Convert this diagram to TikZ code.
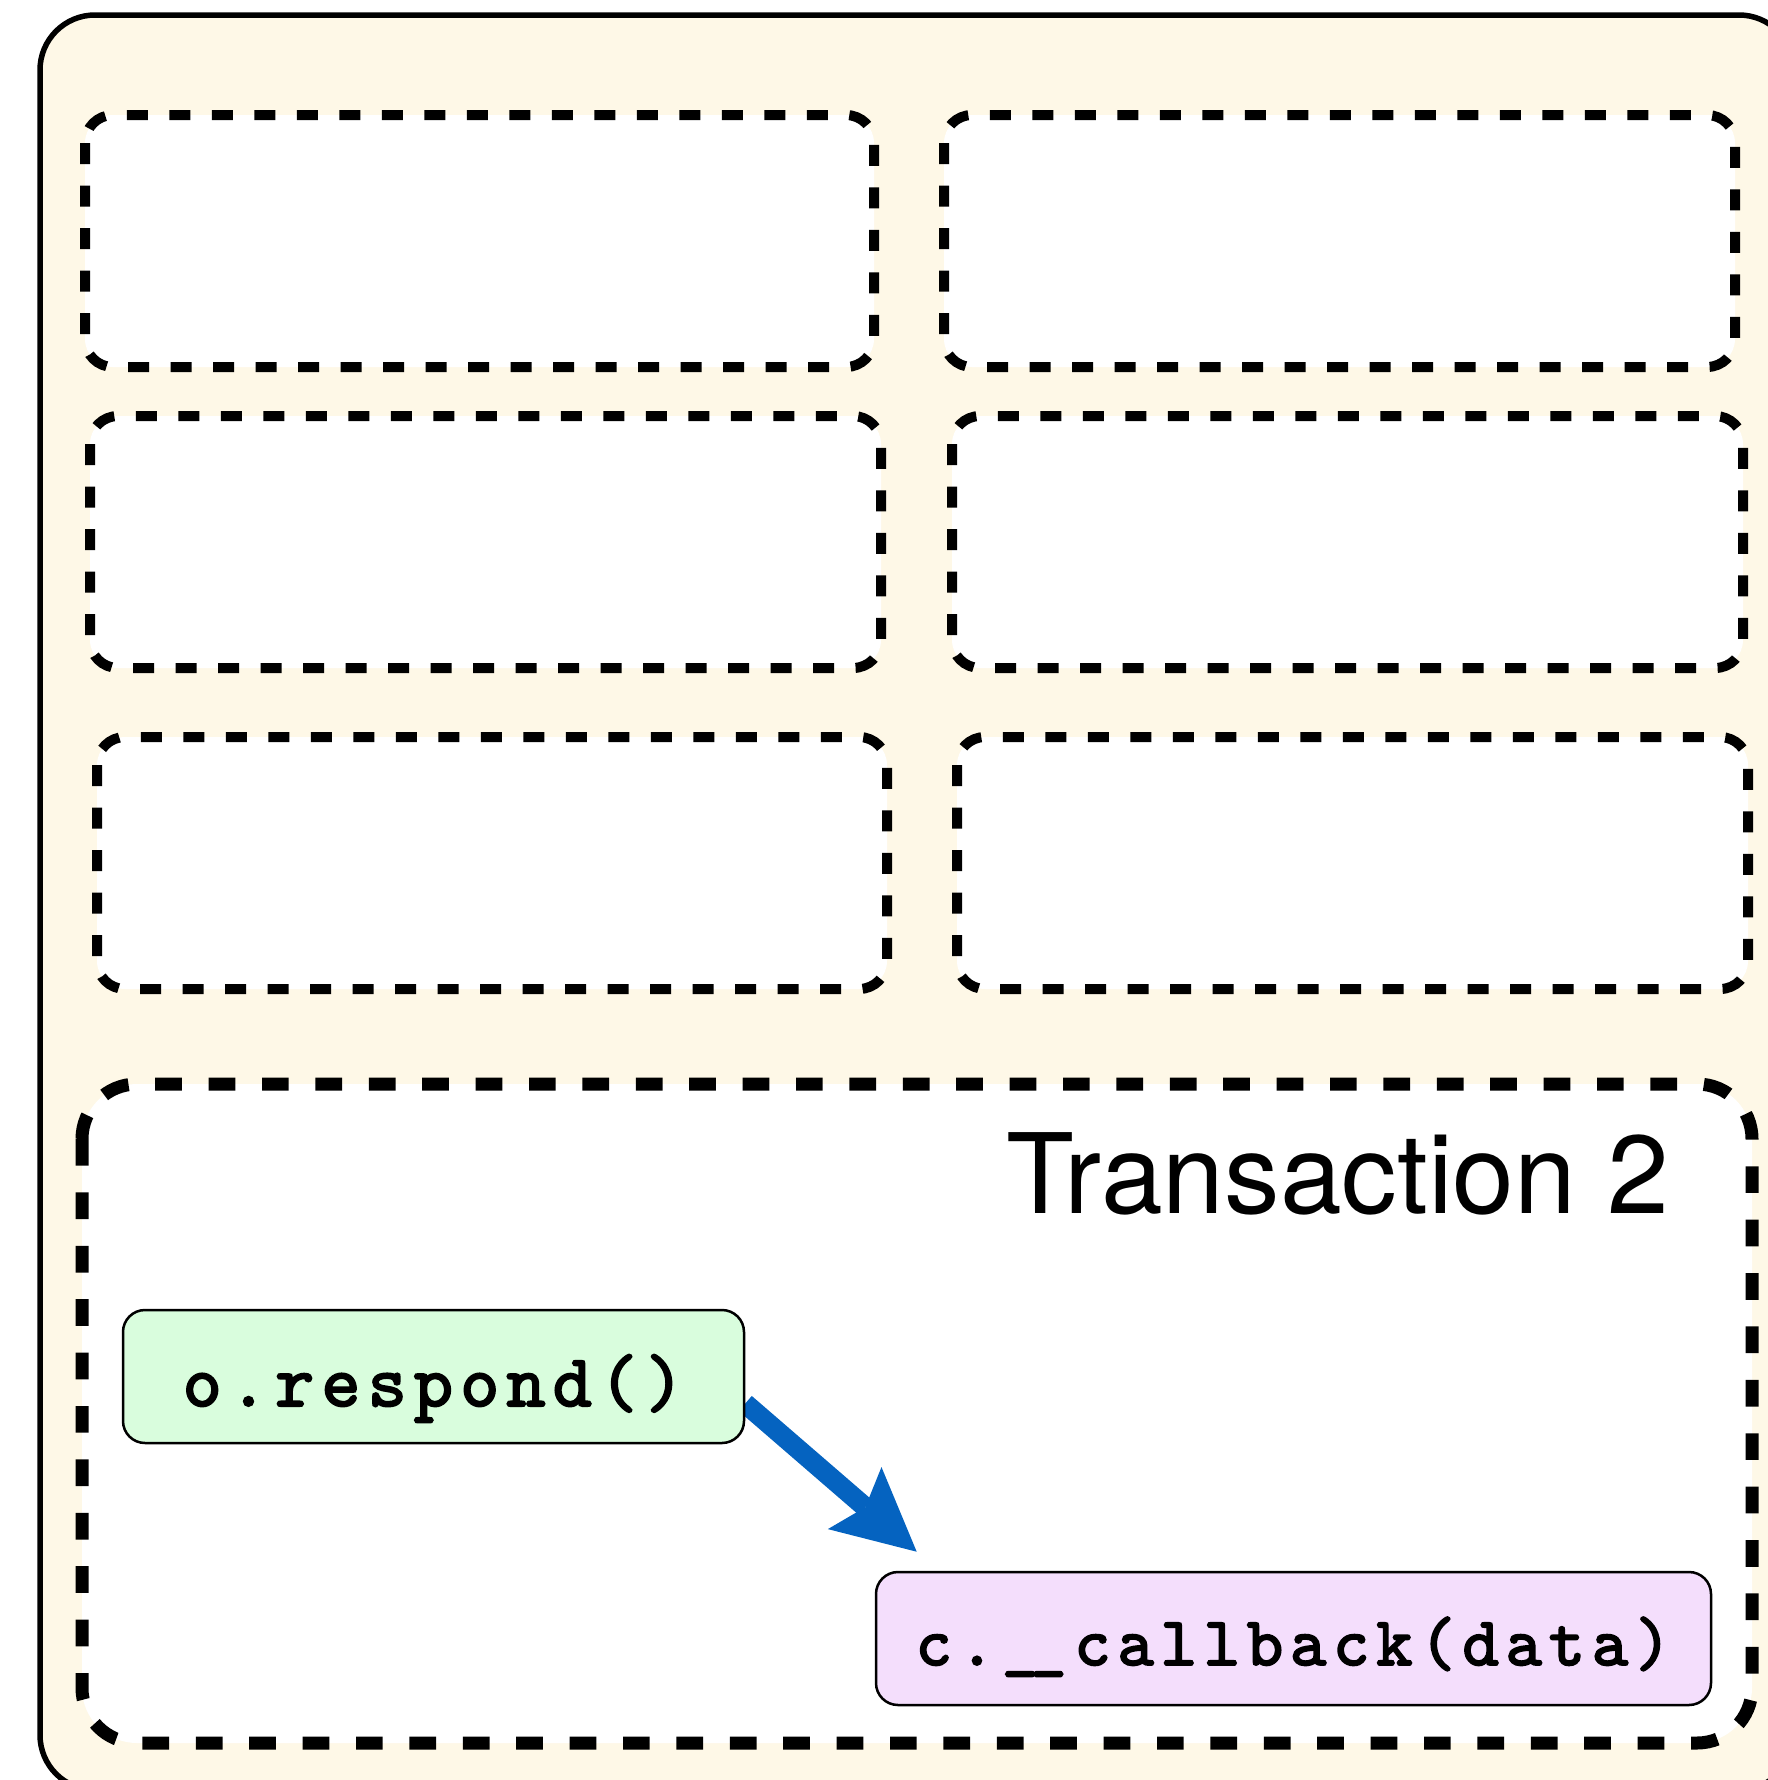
\documentclass[tikz,border=0pt]{standalone}
\usepackage{fontspec}
\setmainfont{TeX Gyre Heros}
\newfontfamily\codefont{lmmono10-regular}[Extension=.otf, LetterSpace=10, FakeBold=2.7]
\usetikzlibrary{arrows.meta}
\definecolor{cream}{HTML}{FEF8E7}
\definecolor{codegreen}{HTML}{D9FDDD}
\definecolor{codepurple}{HTML}{F4DEFC}
\definecolor{flowblue}{HTML}{0563C0}
\pgfdeclarelayer{back}
\pgfdeclarelayer{mid}
\pgfsetlayers{back,mid,main}
\tikzset{
  outerbox/.style={draw=black, line width=5.5pt, fill=cream, rounded corners=55pt},
  slot/.style={draw=black, fill=white, line width=10pt, dash pattern=on 21pt off 21.5pt, rounded corners=28pt},
  txbox/.style={draw=black, fill=white, line width=13pt, dash pattern=on 26.7pt off 26.7pt, rounded corners=55pt},
  codebox/.style={draw=black, line width=2.5pt, rounded corners=22pt, minimum height=133pt, inner sep=0pt},
  titletext/.style={font=\fontsize{111}{120}\selectfont, inner sep=0pt},
  flow/.style={draw=flowblue, line width=20pt, -{Stealth[length=82pt,width=82pt,inset=14pt,line width=0pt]}}
}
\begin{document}
\begin{tikzpicture}[x=1pt,y=-1pt]
\useasboundingbox (0,0) rectangle (1768,1780);
\begin{pgfonlayer}{back}
\begin{scope}
\clip (0,0) rectangle (1768,1780);
\draw[outerbox] (40,15) rectangle (1794,1790);
\draw[slot] (85,115) rectangle (874,367);
\draw[slot] (944,115) rectangle (1735,367);
\draw[slot] (90,416) rectangle (881,668);
\draw[slot] (952,416) rectangle (1743,668);
\draw[slot] (97,737) rectangle (887,989);
\draw[slot] (957,737) rectangle (1748,989);
\draw[txbox] (82,1084) rectangle (1752,1743);
\end{scope}
\end{pgfonlayer}
\node[titletext, anchor=base east] (title) at (1669,1213) {Transaction 2};
\node[codebox, fill=codegreen, minimum width=621pt, text height=59pt, text depth=0pt,
  font=\codefont\fontsize{74}{80}\selectfont] (respond) at (433.5,1376.5) {o.respond()};
\node[codebox, fill=codepurple, minimum width=835pt, text height=53pt, text depth=0pt,
  font=\codefont\fontsize{69}{80}\selectfont] (callback) at (1293.5,1638.5) {c.\_\kern-8pt\_\kern8pt callback(data)};
\coordinate (tip) at (916.7,1551.7);
\begin{pgfonlayer}{mid}
\draw[flow] ([yshift=-27pt]respond.east) -- (tip);
\end{pgfonlayer}
\end{tikzpicture}
\end{document}
